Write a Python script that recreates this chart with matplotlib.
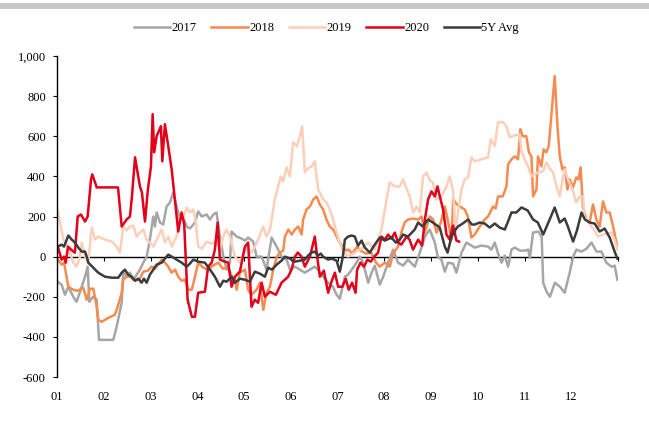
import numpy as np
import matplotlib
matplotlib.use("Agg")
import matplotlib.pyplot as plt
from matplotlib.patches import Rectangle

plt.rcParams['font.family'] = ['Liberation Serif', 'DejaVu Serif']

# ---- data: (day of year, value) ----
s2017 = [(0.5,-125),(3,-140),(5.2,-190),(7.4,-150),(10.6,-200),(12.8,-225),(16.1,-150),(18.3,-100),(20,-50),(21.1,-225),
         (23.5,-200),(25.9,-215),(27.4,-415),(36.7,-415),(38.9,-350),(42.2,-230),(43.2,-80),(45.4,-95),(47.6,-80),(49.7,-115),
         (52,-90),(54.1,-65),(56.3,-30),(58.5,0),(60.6,85),(62.8,200),(63.9,150),(65,220),(67.2,170),(69.3,160),
         (71.5,250),(73.7,270),(75.8,320),(78,250),(80.2,190),(82.4,195),(84.6,150),(86.7,140),(90,170),(92.1,225),
         (94.5,200),(97.6,210),(99.8,185),(102,210),(104.1,220),(106.3,100),(108.5,0),(110.7,-65),(112.8,-30),(113.9,125),
         (117.2,100),(120.4,90),(122.6,80),(124.7,95),(128,75),(130.2,0),(133.5,0),(136.7,-65),(140,95),(143.3,50),
         (146.5,0),(149.8,-15),(152,-65),(155.2,-50),(158.4,-65),(161.7,-80),(165,-65),(168.2,-50),(170.2,-65),(173.6,-100),
         (176.9,-130),(180,-150),(182.4,-190),(184.5,-210),(187.8,-100),(189.9,-90),(193.2,-55),(195.4,-30),(197.6,0),(199.7,-30),
         (203,-130),(205.2,-80),(207.3,-45),(210.6,-140),(212.8,-100),(216,-30),(219.3,35),(222.5,-30),(225.8,-45),(229,-15),
         (233.4,-50),(236.7,20),(240,100),(243.2,135),(246.5,70),(248.4,0),(250.8,-15),(253,-75),(255.1,-30),(258.4,-35),
         (260.6,-80),(263.9,20),(267.1,70),(269.3,60),(272.5,45),(276.9,55),(281.2,50),(283.4,35),(285.6,70),(287.8,15),
         (290,-30),(292.1,5),(294.3,-50),(296.5,35),(298.7,45),(302,30),(305.2,30),(307.4,35),(308.5,-5),(310.6,120),
         (313.9,125),(316.2,100),(317.2,-130),(319.4,-175),(321.6,-200),(324.8,-130),(328.1,-150),(331.2,-180),(334.5,-80),(336.7,0),
         (338.9,35),(342.2,25),(345.5,40),(348.7,70),(352,25),(355.2,25),(358.4,-30),(361.7,-50),(363.8,-45),(365.6,-115)]

s2018 = [(0.5,-15),(3,-40),(4.6,-30),(7.4,-150),(10.6,-165),(13,-170),(15,-165),(17.1,-155),(19.4,-215),(21.5,-160),
         (23.7,-160),(25.9,-250),(26.9,-315),(29.1,-325),(33.5,-305),(37.8,-290),(40,-240),(42.2,-180),(43.2,-115),(45.4,-100),
         (47.6,-100),(50.9,-120),(54.1,-110),(56.3,-75),(59.3,-70),(61.7,-50),(63.9,-60),(66,-40),(68.3,-15),(70.4,-30),
         (72.6,-50),(74.8,-80),(77,-65),(79.1,-100),(81.3,-120),(83.5,-115),(85.7,-165),(87.9,-165),(90,-100),(92.1,-30),
         (95.4,-55),(98.6,-65),(101.7,-45),(105.2,-30),(108.2,-60),(111.7,-55),(114.1,-100),(116.1,-115),(117.2,-165),(119.3,-80),
         (122.6,-65),(124.7,-165),(126.9,-190),(130.2,-165),(132.4,-130),(134.6,-265),(136.7,-180),(138.9,-150),(141.1,-65),(143.5,0),
         (145.5,20),(147.6,30),(148.7,100),(150.9,135),(153.1,110),(155.2,135),(157.4,150),(159.6,110),(160.6,185),(162.8,235),
         (165,250),(167.2,285),(169.4,300),(171.5,260),(173.6,235),(175.8,185),(177.9,150),(180.2,135),(182.4,100),(184.5,70),
         (186.7,50),(188.8,30),(190.3,35),(192.5,15),(195.8,50),(198,30),(201.6,15),(204.9,20),(208.2,-30),(210.6,-50),
         (213.9,-30),(217.1,-50),(219.3,15),(222.5,50),(224.7,120),(226.8,170),(229,185),(232.3,190),(235.6,185),(237.8,200),
         (240,120),(243.2,200),(245.4,185),(247.6,120),(250.4,170),(253,250),(255,180),(257.4,85),(258.5,285),(260.9,260),
         (262.8,250),(266,235),(268,200),(270.4,95),(272.5,110),(275.8,150),(279,185),(281.2,200),(284.5,250),(286.2,240),
         (287.7,300),(290.8,300),(293.2,350),(294.3,460),(296.5,485),(298.7,500),(300.8,485),(302.3,635),(303.8,600),(306.2,600),
         (307.9,520),(309.5,500),(310.6,300),(312.8,335),(313.8,500),(316,450),(317.5,535),(319.3,520),(320.8,550),(322.5,700),
         (324.7,900),(326.5,650),(328,500),(329.7,435),(331.2,445),(333,335),(334.5,385),(336.6,345),(338.8,395),(340.3,385),
         (341.6,445),(343.1,250),(345.4,185),(347.5,170),(349.7,260),(351.9,185),(354,150),(356.2,275),(358.4,220),(360.6,220),
         (362.8,150),(365.6,45)]

s2019 = [(0.5,225),(2,170),(4.1,85),(6.3,60),(8.5,20),(10.6,-30),(12.8,-50),(15,0),(16.1,70),(18.3,0),
         (20.4,-30),(22.6,145),(24.8,85),(26.9,100),(31.3,85),(35.7,75),(38.9,50),(41.1,20),(43.2,150),(45.4,130),
         (47.6,150),(49.7,155),(52,100),(54.1,120),(56.3,135),(58.5,85),(60.6,70),(62.8,50),(66,100),(68.3,135),
         (70.4,70),(72.6,100),(74.8,50),(78,100),(80.2,200),(82.3,190),(84.6,245),(86.7,220),(88.9,235),(90.6,170),
         (92.1,50),(94.5,40),(97.6,75),(100.9,65),(104.1,75),(106.3,35),(108.4,100),(110.6,135),(112.8,100),(116.1,0),
         (119.3,-30),(122.6,35),(124.7,45),(126.9,20),(129.1,50),(131.2,85),(134.5,150),(136.7,100),(138.9,135),(140,185),
         (142.1,285),(144.3,350),(146,400),(147.5,375),(149.8,445),(151.9,400),(154.1,570),(156.5,550),(158.4,600),(159.9,650),
         (161.7,420),(163.8,440),(166.1,450),(168.2,475),(170.4,335),(173.6,285),(175.8,270),(178,235),(180.1,185),(182.4,120),
         (184.5,70),(186.5,30),(189.9,0),(194.3,20),(198.7,40),(203,70),(207.3,35),(211.7,135),(215,285),(217.1,370),
         (220.4,350),(223.6,350),(225.8,385),(228,340),(230.2,300),(232.3,220),(234.5,250),(236.7,220),(238.8,400),(241,420),
         (243.2,380),(245.3,370),(247.6,285),(250.8,300),(254.1,350),(256.2,400),(258.4,330),(260.1,120),(261.6,220),(263.9,335),
         (266,385),(268.2,395),(270.4,495),(272.5,475),(276.9,485),(281.2,495),(283,585),(285.6,550),(287.7,670),(291,670),
         (293.2,650),(295.4,595),(298.6,605),(301.9,610),(303,525),(305.1,485),(307.3,450),(309.5,400),(311.7,410),(313.8,420),
         (317.1,425),(319.3,470),(321.4,440),(323.6,420),(325.8,350),(328,300),(329.5,370),(331.2,435),(333.4,385),(336.6,330),
         (338.7,270),(341,300),(343.2,300),(344.2,200),(346.4,175),(348.5,150),(350.7,130),(352.9,100),(356.1,110),(359.4,115),
         (361.6,120),(363.7,85),(365.6,35)]

s2020 = [(0.5,50),(3,-15),(4.6,0),(5.7,-30),(7.2,50),(9.1,35),(11.7,20),(13.5,200),(15.6,210),(18.3,175),
         (20,200),(22.2,385),(23,410),(25.9,345),(39.8,345),(42.2,150),(45.4,185),(47.6,200),(48.9,300),(50.9,495),
         (54.1,350),(55.4,320),(57.4,175),(59.3,335),(61.3,450),(62.4,710),(63.4,520),(65,600),(67.8,650),(68.7,475),
         (70.4,660),(72.6,550),(74.8,435),(76.9,285),(79.1,125),(81.3,220),(83,160),(85.2,-215),(88,-300),(90,-300),
         (92.1,-180),(96.5,-175),(98.6,-50),(100.9,-30),(103,35),(104.8,170),(106.3,-15),(109.5,-25),(111.7,-30),(113.9,-150),
         (116.1,-100),(119.3,-75),(122.6,50),(124.7,70),(126.9,-250),(129,-215),(131.2,-230),(133.5,-130),(135.6,-200),(138.9,-175),
         (142.8,-190),(146.5,-130),(150.8,-100),(153,-65),(155.2,0),(157.1,20),(159.5,0),(161.7,-50),(165,0),(168.2,100),
         (170,-15),(171.5,-100),(174.1,-70),(176.9,-180),(179.3,-120),(181.3,-80),(183.4,-150),(186.2,-150),(188.4,-110),(190.3,-165),
         (192.5,-130),(194.8,-180),(195.8,-65),(198,-30),(200.3,-50),(202.5,-15),(204.7,-25),(207,0),(209.5,20),(211.7,100),
         (213.9,85),(216,110),(218.2,90),(220.4,120),(222.5,70),(224.7,60),(228,100),(230,85),(232.3,35),(235.6,85),
         (238.2,55),(240,185),(242.1,285),(244.3,325),(246.5,300),(248.2,350),(250.4,280),(251.9,235),(254.1,110),(256.2,85),
         (258.4,155),(260.6,80),(262.3,75)]

s5y = [(0.5,50),(3,60),(4.6,50),(7.4,105),(9.6,85),(11.7,70),(13.9,45),(16.1,25),(18.3,25),(19.4,0),
       (20.4,-30),(23.7,-55),(26.9,-80),(31.3,-100),(35.7,-105),(40,-105),(42.2,-80),(44.3,-65),(46.5,-90),(48.7,-100),
       (50.9,-120),(53,-110),(55.2,-130),(56.7,-110),(58.5,-130),(60.6,-90),(62.8,-65),(65,-40),(68.3,-30),(70.4,-10),
       (72.6,10),(74.8,0),(78,-15),(81.3,-30),(84.6,-50),(86.7,-35),(88.9,-15),(92.1,-25),(96.5,-30),(99.8,-65),
       (103,-100),(106.3,-150),(108.5,-120),(110.7,-125),(113.9,-100),(116.1,-130),(119.3,-110),(122.6,-115),(125.8,-125),(129.1,-75),
       (132.4,-85),(135.6,-100),(137.8,-55),(140.2,-65),(143.3,-40),(146.5,-20),(148.7,0),(152,-10),(155.2,-25),(158.4,-20),
       (161.7,-15),(163.8,5),(166,20),(168.2,25),(170.2,5),(172.1,15),(173.6,0),(176.9,-15),(179.3,-10),(182.4,-20),
       (184.5,-75),(186.5,0),(187.8,85),(189.9,100),(192.3,105),(194.3,100),(196.4,55),(198.7,80),(200.8,45),(204.1,20),
       (207.3,60),(210.6,95),(213.9,80),(218.2,95),(221,70),(223.6,85),(225.8,110),(229,100),(233.4,135),(235.6,170),
       (238.6,150),(242.1,185),(245.2,170),(249.7,145),(253,50),(254.8,20),(257.4,100),(259.5,130),(261.6,150),(264.7,165),
       (268.2,185),(270.6,160),(272.5,160),(275.8,170),(279,165),(282.3,145),(285.6,165),(288.8,145),(292.1,135),(294,170),
       (296.5,220),(299.7,220),(303,245),(307.1,230),(310.6,185),(313.7,170),(317.2,110),(320.3,165),(324.7,245),(328,170),
       (331.2,190),(333.3,150),(336.7,75),(339.2,130),(342.2,220),(344.4,185),(347.5,170),(350.8,165),(354,125),(357.3,140),
       (360.6,95),(363.8,25),(365.6,-10)]

series_names = ['2017', '2018', '2019', '2020', '5Y Avg']
series_data = [s2017, s2018, s2019, s2020, s5y]
series_colors = ['#A6A6A6', '#F68B50', '#FCCFBA', '#E2001A', '#3C3C3C']

month_labels = ['01', '02', '03', '04', '05', '06', '07', '08', '09', '10', '11', '12']
y_ticks = [-600, -400, -200, 0, 200, 400, 600, 800, 1000]

# ---- figure ----
fig = plt.figure(figsize=(6.49, 4.48), dpi=100)
ax = fig.add_axes([57/649, 1 - 377/448, 561/649, 321/448])

for name, data, col in zip(series_names, series_data, series_colors):
    arr = np.array(data)
    ax.plot(arr[:, 0], arr[:, 1], color=col, lw=1.8, label=name, solid_joinstyle='round')

xmax = 366
ax.set_xlim(0, xmax)
ax.set_ylim(-600, 1000)

month_pos = np.linspace(0, xmax, 13)
ax.set_xticks(month_pos[:12])
ax.set_xticklabels(month_labels)
ax.tick_params(axis='x', length=0, pad=10, labelsize=9)
for lbl in ax.get_xticklabels():
    lbl.set_x(lbl.get_position()[0])

ax.set_yticks(y_ticks)
ax.set_yticklabels([f"{v:,}" for v in y_ticks])
ax.tick_params(axis='y', direction='out', length=3, width=0.8, labelsize=9, pad=5)

for sp in ['top', 'right', 'bottom']:
    ax.spines[sp].set_visible(False)
ax.spines['left'].set_linewidth(1.0)
ax.spines['left'].set_color('black')

# zero axis line with ticks
sec = ax.secondary_xaxis(0.375)
sec.set_alignment('bottom')
sec.set_xticks(month_pos)
sec.set_xticklabels([])
sec.tick_params(direction='out', length=3, width=0.8)
for sp in sec.spines.values():
    sp.set_linewidth(1.0)
    sp.set_color('black')

# legend
fig.legend(loc='center', bbox_to_anchor=(0.503, 1 - 28/448), ncol=5, frameon=False,
           fontsize=9, handlelength=2.9, columnspacing=1.2, handletextpad=0.1)

# top grey band
fig.add_artist(Rectangle((0, 1 - 9/448), 1, 6/448, transform=fig.transFigure,
                         color='#C8C8C8', lw=0))

fig.savefig('out.png', dpi=100)
